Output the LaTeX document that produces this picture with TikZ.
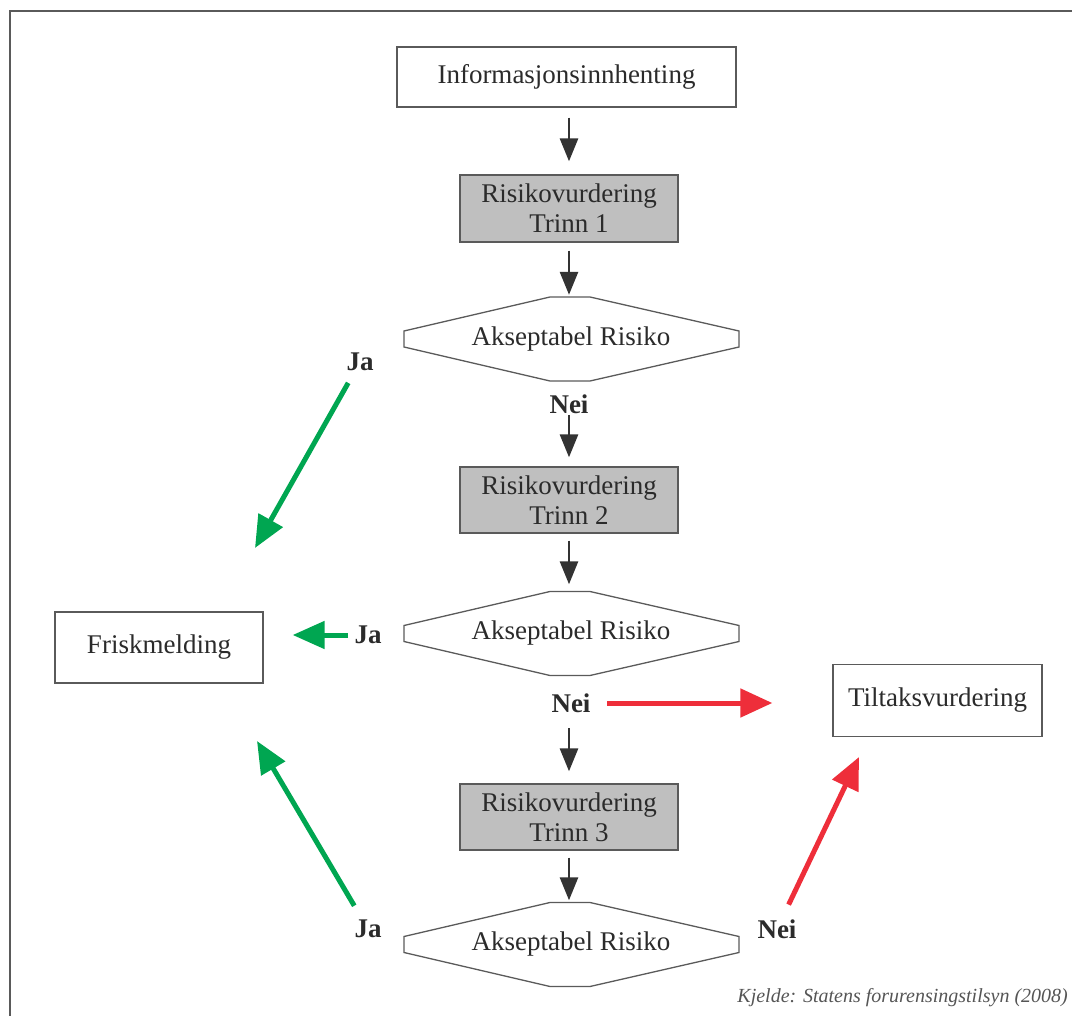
\documentclass[tikz,border=0pt]{standalone}
\usepackage{fontspec}
\setmainfont{Liberation Serif}
\usetikzlibrary{arrows.meta,calc}
\definecolor{boxline}{HTML}{5A5A5A}
\definecolor{boxgray}{HTML}{BFBFBF}
\definecolor{txt}{HTML}{2B2B2B}
\definecolor{arrblack}{HTML}{333333}
\definecolor{arrgreen}{HTML}{00A651}
\definecolor{arrred}{HTML}{EE2E3A}
\definecolor{credit}{HTML}{555555}
\tikzset{
  whitebox/.style={draw=boxline, line width=1.3pt, fill=white, inner sep=0pt, text=txt,
    font=\fontsize{27}{30}\selectfont, align=center},
  graybox/.style={whitebox, fill=boxgray, minimum width=218pt, minimum height=67pt},
  hextext/.style={inner sep=0pt, text=txt, font=\fontsize{27}{30}\selectfont,
    minimum width=336pt, minimum height=84pt},
  hexline/.style={draw=boxline, line width=1.3pt},
  lbl/.style={inner sep=0pt, text=txt, font=\fontsize{27}{30}\selectfont\bfseries},
  barrow/.style={draw=arrblack, line width=2.8pt, -{Triangle[length=23pt,width=18pt]}},
  garrow/.style={draw=arrgreen, line width=5pt, -{Triangle[length=32pt,width=27pt]}},
  rarrow/.style={draw=arrred, line width=5pt, -{Triangle[length=32pt,width=28pt]}},
}
\begin{document}
\begin{tikzpicture}[x=1pt,y=-1pt]
\useasboundingbox (0,0) rectangle (1072,1016);
% frame
\draw[boxline, line width=2pt] (10,1016) -- (10,11) -- (1072,11);

% nodes
\node[whitebox, minimum width=339pt, minimum height=60pt] (info) at (566.5,77) {Informasjonsinnhenting};
\node[graybox] (t1) at (569,208.5) {Risikovurdering\\Trinn 1};
\node[hextext] (h1) at (571,339) {Akseptabel Risiko};
\node[lbl] (nei1) at (569,404) {Nei};
\node[lbl] (ja1) at (360,362) {Ja};
\node[graybox, minimum height=66pt] (t2) at (569,500) {Risikovurdering\\Trinn 2};
\node[hextext] (h2) at (571,633.5) {Akseptabel Risiko};
\node[lbl] (ja2) at (368,635) {Ja};
\node[lbl] (nei2) at (571,703) {Nei};
\node[whitebox, minimum width=208pt, minimum height=71pt] (frisk) at (159,647.5) {Friskmelding};
\node[whitebox, minimum width=209pt, minimum height=72pt] (tilt) at (937.5,700.5) {Tiltaksvurdering};
\node[graybox, minimum height=66pt] (t3) at (569,817) {Risikovurdering\\Trinn 3};
\node[hextext] (h3) at (571,944.5) {Akseptabel Risiko};
\node[lbl] (ja3) at (368,929) {Ja};
\node[lbl] (nei3) at (777,929) {Nei};
\node[anchor=east, inner sep=0pt, text=credit, font=\fontsize{20}{22}\selectfont\itshape] (src) at (1068,998) {Kjelde: Statens forurensingstilsyn (2008)};

% hexagon outlines
\foreach \h in {h1,h2,h3}{
  \draw[hexline] ($(\h)+(-167,-8)$) -- ($(\h)+(-21,-42)$) -- ($(\h)+(19,-42)$) -- ($(\h)+(168,-8)$)
    -- ($(\h)+(168,8)$) -- ($(\h)+(19,42)$) -- ($(\h)+(-21,42)$) -- ($(\h)+(-167,8)$) -- cycle;
}

% free ends of diagonal arrows
\coordinate (g1e) at (255,548);
\coordinate (g3e) at (257,741);
\coordinate (r3e) at (859,757);

% black arrows
\draw[barrow, shorten <=10pt, shorten >=13pt] (info.south -| t1.north) -- (t1.north);
\draw[barrow, shorten <=8pt, shorten >=2pt] (t1.south) -- (t1.south |- h1.north);
\draw[barrow, shorten <=11pt, shorten >=9pt] (nei1.center) -- (nei1.center |- t2.north);
\draw[barrow, shorten <=7pt, shorten >=7pt] (t2.south) -- (t2.south |- h2.north);
\draw[barrow, shorten <=25pt, shorten >=12pt] (nei2.center -| t3.north) -- (t3.north);
\draw[barrow, shorten <=7pt, shorten >=2pt] (t3.south) -- (t3.south |- h3.north);

% green arrows
\draw[garrow, shorten <=24pt] (ja1.center) -- (g1e);
\draw[garrow, shorten <=20pt, shorten >=29pt] (ja2.center) -- (frisk.east |- ja2.center);
\draw[garrow, shorten <=27pt] (ja3.center) -- (g3e);

% red arrows
\draw[rarrow, shorten <=36pt, shorten >=60pt] (nei2.center) -- (tilt.west |- nei2.center);
\draw[rarrow, shorten <=27pt] (nei3.center) -- (r3e);
\end{tikzpicture}
\end{document}
